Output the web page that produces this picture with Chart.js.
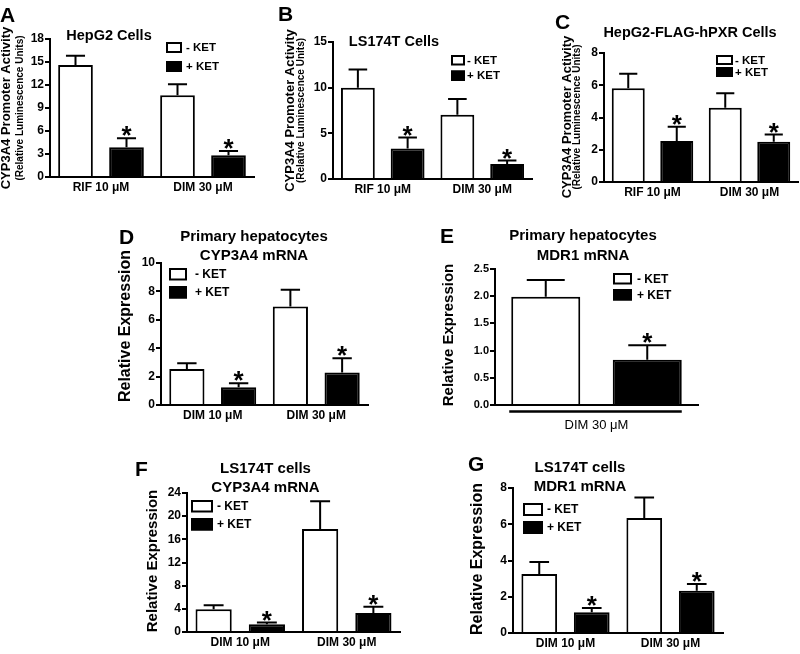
<!DOCTYPE html>
<html><head><meta charset="utf-8">
<script src="https://cdn.jsdelivr.net/npm/chart.js@4.4.0/dist/chart.umd.min.js"></script>
<style>
html,body{margin:0;padding:0;background:#fff;}
#wrap{position:relative;width:800px;height:654px;overflow:hidden;background:#fff;}
#wrap canvas{position:absolute;left:0;top:0;}
</style></head><body><div id="wrap"></div>
<script>
// ---------------- DATA ----------------
const seriesLabels = ['- KET', '+ KET'];
const catsRifDim = ['RIF 10 μM', 'DIM 30 μM'];
const catsDim = ['DIM 10 μM', 'DIM 30 μM'];
const catsE = ['DIM 30 μM'];

// A: HepG2 cells, CYP3A4 promoter activity
const aMinus = [14.6, 10.65], aMinusSem = [1.2, 1.45];
const aPlus = [3.87, 2.83], aPlusSem = [1.18, 0.56];
const aTicks = [0, 3, 6, 9, 12, 15, 18];
// B: LS174T cells
const bMinus = [10.0, 7.04], bMinusSem = [2.0, 1.71];
const bPlus = [3.34, 1.63], bPlusSem = [1.2, 0.4];
const bTicks = [0, 5, 10, 15];
// C: HepG2-FLAG-hPXR cells
const cMinus = [5.82, 4.61], cMinusSem = [0.89, 0.9];
const cPlus = [2.55, 2.49], cPlusSem = [0.88, 0.46];
const cTicks = [0, 2, 4, 6, 8];
// D: primary hepatocytes CYP3A4 mRNA
const dMinus = [2.54, 6.94], dMinusSem = [0.4, 1.18];
const dPlus = [1.25, 2.28], dPlusSem = [0.28, 1.02];
const dTicks = [0, 2, 4, 6, 8, 10];
// E: primary hepatocytes MDR1 mRNA
const eMinus = [1.99], eMinusSem = [0.31];
const ePlus = [0.83], ePlusSem = [0.27];
const eTicks = [0, 0.5, 1.0, 1.5, 2.0, 2.5];
// F: LS174T cells CYP3A4 mRNA
const fMinus = [3.93, 17.8], fMinusSem = [0.7, 4.76];
const fPlus = [1.33, 3.3], fPlusSem = [0.29, 1.04];
const fTicks = [0, 4, 8, 12, 16, 20, 24];
// G: LS174T cells MDR1 mRNA
const gMinus = [3.26, 6.34], gMinusSem = [0.66, 1.14];
const gPlus = [1.14, 2.33], gPlusSem = [0.24, 0.37];
const gTicks = [0, 2, 4, 6, 8];

const starsTwo = [true, true];
const starsOne = [true];

const titleA = ['HepG2 Cells'];
const titleB = ['LS174T Cells'];
const titleC = ['HepG2-FLAG-hPXR Cells'];
const titleD = ['Primary hepatocytes', 'CYP3A4 mRNA'];
const titleE = ['Primary hepatocytes', 'MDR1 mRNA'];
const titleF = ['LS174T cells', 'CYP3A4 mRNA'];
const titleG = ['LS174T cells', 'MDR1 mRNA'];
const yTitlePromoter = ['CYP3A4 Promoter Activity', '(Relative Luminescence Units)'];
const yTitleExpr = ['Relative Expression'];

// ---------------- LAYOUT ----------------
const FF = '"Liberation Sans", Arial, Helvetica, sans-serif';
const panels = [
  {letter:'A', cats:catsRifDim, m:aMinus, ms:aMinusSem, p:aPlus, ps:aPlusSem, stars:starsTwo, ticks:aTicks,
   title:titleA, ytitle:yTitlePromoter,
   L:{area:{l:50,r:254,t:39,b:177}, letter:{x:0,y:22}, tx:109, ty:[40], tfont:'bold 14.5px',
      yx:[6.5,20], yfont:['bold 13px','bold 10px'], ycy:108,
      leg:{x:166,w:16,h:11,y:[42,61],tx:186,font:'bold 11.5px'}, xfont:{size:12,weight:'bold'}, xpad:3, yfs:12}},
  {letter:'B', cats:catsRifDim, m:bMinus, ms:bMinusSem, p:bPlus, ps:bPlusSem, stars:starsTwo, ticks:bTicks,
   title:titleB, ytitle:yTitlePromoter,
   L:{area:{l:333,r:532,t:42,b:179}, letter:{x:278,y:21}, tx:394, ty:[46], tfont:'bold 14.5px',
      yx:[290,301.5], yfont:['bold 13px','bold 10px'], ycy:110.5,
      leg:{x:451,w:14,h:10.5,y:[55,70.5],tx:467,font:'bold 11.5px'}, xfont:{size:12,weight:'bold'}, xpad:3, yfs:12}},
  {letter:'C', cats:catsRifDim, m:cMinus, ms:cMinusSem, p:cPlus, ps:cPlusSem, stars:starsTwo, ticks:cTicks,
   title:titleC, ytitle:yTitlePromoter,
   L:{area:{l:604,r:798,t:53,b:182}, letter:{x:555,y:29}, tx:690, ty:[37], tfont:'bold 14.5px',
      yx:[567,577.5], yfont:['bold 13px','bold 10px'], ycy:117,
      leg:{x:716,w:17,h:10,y:[55,67],tx:735,font:'bold 11.5px'}, xfont:{size:12,weight:'bold'}, xpad:3, yfs:12}},
  {letter:'D', cats:catsDim, m:dMinus, ms:dMinusSem, p:dPlus, ps:dPlusSem, stars:starsTwo, ticks:dTicks,
   title:titleD, ytitle:yTitleExpr,
   L:{area:{l:161,r:368,t:263,b:405}, letter:{x:119,y:244}, tx:254, ty:[240.5,260], tfont:'bold 15px',
      yx:[126], yfont:['bold 16px'], ycy:326,
      leg:{x:169,w:18,h:12.5,y:[268,286],tx:195,font:'bold 12px'}, xfont:{size:12,weight:'bold'}, xpad:3, yfs:12}},
  {letter:'E', cats:catsE, m:eMinus, ms:eMinusSem, p:ePlus, ps:ePlusSem, stars:starsOne, ticks:eTicks,
   title:titleE, ytitle:yTitleExpr, underline:true,
   L:{area:{l:495,r:698,t:269,b:405}, letter:{x:440,y:243}, tx:583, ty:[240,260], tfont:'bold 15px',
      yx:[448.5], yfont:['bold 15px'], ycy:335,
      leg:{x:613,w:19,h:11.5,y:[273,289],tx:637,font:'bold 12px'}, xfont:{size:13,weight:'normal'}, xpad:13, yfs:11, dec:1}},
  {letter:'F', cats:catsDim, m:fMinus, ms:fMinusSem, p:fPlus, ps:fPlusSem, stars:starsTwo, ticks:fTicks,
   title:titleF, ytitle:yTitleExpr,
   L:{area:{l:187,r:400,t:493,b:632}, letter:{x:135,y:476}, tx:265.5, ty:[473,492], tfont:'bold 15px',
      yx:[152.5], yfont:['bold 15px'], ycy:561,
      leg:{x:191,w:22,h:12.5,y:[500,518],tx:217,font:'bold 12px'}, xfont:{size:12,weight:'bold'}, xpad:3, yfs:12}},
  {letter:'G', cats:catsDim, m:gMinus, ms:gMinusSem, p:gPlus, ps:gPlusSem, stars:starsTwo, ticks:gTicks,
   title:titleG, ytitle:yTitleExpr,
   L:{area:{l:513,r:723,t:488,b:633}, letter:{x:468,y:471}, tx:580, ty:[472,491], tfont:'bold 15px',
      yx:[477.5], yfont:['bold 16px'], ycy:559,
      leg:{x:523,w:20,h:13,y:[503,521],tx:547,font:'bold 12px'}, xfont:{size:12,weight:'bold'}, xpad:3, yfs:12}}
];

const YW = 40, XH = 30, W = 800, H = 654;

const decor = {
  id: 'decor',
  afterDatasetsDraw(chart, args, o) {
    const ctx = chart.ctx, ys = chart.scales.y;
    ctx.save();
    ctx.strokeStyle = '#000'; ctx.fillStyle = '#000'; ctx.lineWidth = 2;
    chart.data.datasets.forEach((ds, di) => {
      const meta = chart.getDatasetMeta(di);
      meta.data.forEach((el, i) => {
        const top = ys.getPixelForValue(ds.data[i] + ds.sem[i]);
        const cw = el.width * 0.55;
        ctx.beginPath();
        ctx.moveTo(el.x, el.y); ctx.lineTo(el.x, top);
        ctx.moveTo(el.x - cw / 2, top); ctx.lineTo(el.x + cw / 2, top);
        ctx.stroke();
        if (ds.stars && ds.stars[i]) {
          const sz = 26;
          ctx.font = 'bold ' + sz + 'px ' + FF;
          ctx.textAlign = 'center'; ctx.textBaseline = 'alphabetic';
          ctx.fillText('*', el.x, top - 9 + 0.58 * sz);
        }
      });
    });
    ctx.restore();
  },
  afterDraw(chart, args, o) {
    const ctx = chart.ctx, L = o.L, P = o.P;
    ctx.save();
    ctx.fillStyle = '#000'; ctx.strokeStyle = '#000';
    // panel letter
    ctx.font = 'bold 21px ' + FF; ctx.textAlign = 'left'; ctx.textBaseline = 'alphabetic';
    ctx.fillText(P.letter, L.letter.x, L.letter.y);
    // title
    ctx.font = L.tfont + ' ' + FF; ctx.textAlign = 'center';
    P.title.forEach((t, i) => ctx.fillText(t, L.tx, L.ty[i]));
    // y title
    P.ytitle.forEach((t, i) => {
      ctx.save();
      ctx.translate(L.yx[i], L.ycy); ctx.rotate(-Math.PI / 2);
      ctx.font = L.yfont[i] + ' ' + FF; ctx.textAlign = 'center'; ctx.textBaseline = 'middle';
      ctx.fillText(t, 0, 0);
      ctx.restore();
    });
    // legend
    const lg = L.leg;
    chart.data.datasets.forEach((ds, i) => {
      ctx.fillStyle = ds.backgroundColor;
      ctx.fillRect(lg.x, lg.y[i], lg.w, lg.h);
      ctx.lineWidth = 2; ctx.strokeStyle = '#000';
      ctx.strokeRect(lg.x + 1, lg.y[i] + 1, lg.w - 2, lg.h - 2);
      ctx.fillStyle = '#000';
      ctx.font = lg.font + ' ' + FF; ctx.textAlign = 'left'; ctx.textBaseline = 'middle';
      ctx.fillText(ds.label, lg.tx, lg.y[i] + lg.h / 2 + 0.5);
    });
    // underline (panel E)
    if (P.underline) {
      const m0 = chart.getDatasetMeta(0).data[0], m1 = chart.getDatasetMeta(1).data[0];
      ctx.lineWidth = 2.5;
      ctx.beginPath();
      ctx.moveTo(m0.x - m0.width / 2 - 2, chart.chartArea.bottom + 6.5);
      ctx.lineTo(m1.x + m1.width / 2, chart.chartArea.bottom + 6.5);
      ctx.stroke();
    }
    ctx.restore();
  }
};

Chart.defaults.font.family = FF;
Chart.defaults.color = '#000';

const wrap = document.getElementById('wrap');
panels.forEach(P => {
  const L = P.L, A = L.area;
  const cv = document.createElement('canvas');
  cv.width = W; cv.height = H;
  cv.style.width = W + 'px'; cv.style.height = H + 'px';
  wrap.appendChild(cv);
  new Chart(cv, {
    type: 'bar',
    data: {
      labels: P.cats,
      datasets: [
        {label: seriesLabels[0], data: P.m, sem: P.ms, backgroundColor: '#ffffff', borderColor: '#000', borderWidth: 2, borderSkipped: 'start'},
        {label: seriesLabels[1], data: P.p, sem: P.ps, stars: P.stars, backgroundColor: '#000000', borderColor: '#000', borderWidth: 2, borderSkipped: 'start'}
      ]
    },
    options: {
      responsive: false, animation: false, devicePixelRatio: 1,
      layout: {padding: {left: A.l - YW, right: W - A.r, top: A.t, bottom: H - A.b - XH}},
      datasets: {bar: {categoryPercentage: 1.0, barPercentage: 0.68}},
      plugins: {legend: {display: false}, title: {display: false}, tooltip: {enabled: false},
                decor: {L: L, P: P}},
      scales: {
        x: {
          afterFit: s => { s.height = XH; },
          grid: {display: false, drawTicks: false},
          border: {display: true, color: '#000', width: 2},
          ticks: {font: L.xfont, color: '#000', padding: L.xpad, maxRotation: 0, autoSkip: false}
        },
        y: {
          min: P.ticks[0], max: P.ticks[P.ticks.length - 1],
          afterFit: s => { s.width = YW; },
          afterBuildTicks: s => { s.ticks = P.ticks.map(v => ({value: v})); },
          grid: {display: true, drawOnChartArea: false, drawTicks: true, tickLength: 5, color: '#000', lineWidth: 2},
          border: {display: true, color: '#000', width: 2},
          ticks: {font: {size: L.yfs, weight: 'bold'}, color: '#000', padding: 1,
                  callback: v => L.dec ? Number(v).toFixed(L.dec) : String(v)}
        }
      }
    },
    plugins: [decor]
  });
});
</script></body></html>
